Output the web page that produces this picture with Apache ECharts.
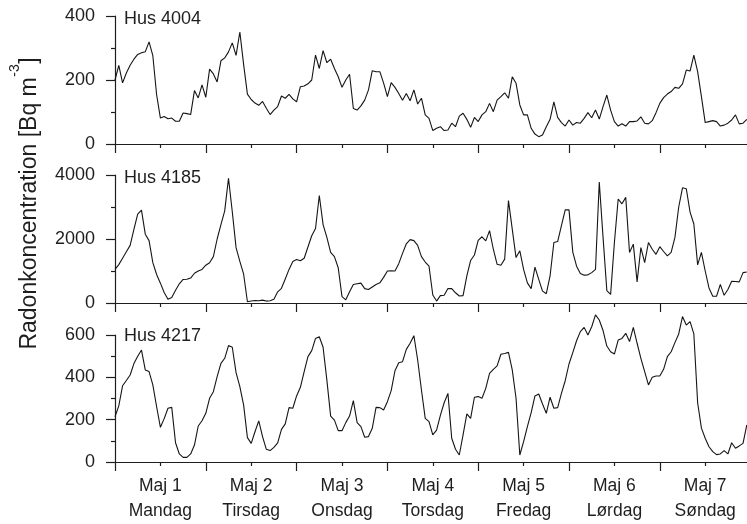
<!DOCTYPE html>
<html><head><meta charset="utf-8">
<script src="https://cdn.jsdelivr.net/npm/echarts@6/dist/echarts.min.js"></script>
<style>html,body{margin:0;padding:0;background:#fff}#c{width:747px;height:524px}</style>
</head><body><div id="c"></div>
<script>
// ---- data (hourly values, 7 days x 24 h) ----
const dates = ['Maj 1','Maj 2','Maj 3','Maj 4','Maj 5','Maj 6','Maj 7'];
const weekdays = ['Mandag','Tirsdag','Onsdag','Torsdag','Fredag','Lørdag','Søndag'];
const panelTitles = ['Hus 4004','Hus 4185','Hus 4217'];
const yMax = [400, 4000, 600];
const yInterval = [200, 2000, 200];

const hus4004 = [
 200,246,191,222,246,265,280,285,288,319,276,154,81,86,79,81,71,71,97,95,92,167,144,185,
 146,234,219,194,260,269,288,316,277,350,248,156,139,128,121,133,112,92,106,117,150,143,155,141,
 132,179,181,188,200,278,236,292,254,265,236,210,177,200,218,111,106,119,137,169,229,226,226,190,
 148,192,177,158,137,158,135,169,125,143,91,80,42,49,54,42,44,65,54,87,96,77,52,83,
 70,91,101,127,101,137,148,160,143,210,190,122,91,91,49,31,23,28,54,77,132,83,67,56,
 75,59,67,65,80,98,82,106,78,117,153,106,70,56,63,56,70,70,72,85,65,63,73,98,
 127,145,156,164,177,174,188,231,228,278,226,148,67,70,73,70,56,59,65,75,91,63,65,77
];
const hus4185 = [
 1050,1200,1400,1600,1800,2300,2780,2900,2150,1950,1260,890,620,330,120,170,400,600,735,740,780,930,1000,1050,
 1180,1260,1450,2000,2450,2880,3900,2850,1730,1300,900,40,60,80,70,90,60,70,120,350,460,750,1050,1300,
 1360,1320,1400,1750,2100,2330,3360,2450,2050,1580,1450,1100,200,100,350,580,600,620,450,420,500,580,630,800,
 1000,1010,1000,1230,1550,1850,1980,1950,1800,1450,1280,1150,250,60,230,240,450,450,320,220,230,850,1330,1500,
 1960,2070,1940,2260,1680,1210,1180,1370,3200,2310,1420,1630,1050,630,450,1120,740,370,290,850,1890,1920,2420,2910,
 2910,1590,1150,920,870,880,950,1050,3780,2050,390,270,1890,3250,3100,3300,1580,1840,660,1730,1260,1890,1680,1520,
 1760,1610,1470,1580,2050,3000,3600,3570,2840,2470,1190,1580,1000,470,210,210,580,240,420,680,670,660,950,970
];
const hus4217 = [
 214,265,360,385,411,465,500,529,435,427,364,261,164,205,254,258,91,38,22,22,38,80,170,195,
 230,301,332,403,466,490,550,542,422,356,269,115,88,143,194,120,60,54,69,90,154,180,257,254,
 312,353,427,498,526,584,592,542,387,217,198,148,148,186,217,290,186,167,117,120,159,258,257,246,
 285,337,431,469,474,532,561,597,482,340,206,191,128,151,220,280,324,112,60,33,128,227,206,306,
 309,301,348,419,438,454,509,513,518,435,301,33,96,167,233,312,321,274,230,306,254,257,324,384,
 463,517,573,616,636,600,639,695,671,621,548,521,510,576,584,608,569,636,561,490,427,364,400,406,
 406,438,498,521,564,605,687,647,663,605,280,160,112,72,49,35,38,54,38,91,65,76,88,175
];
const seriesData = [hus4004, hus4185, hus4217];

// ---- layout / style ----
const FONT = 'Liberation Sans, Arial, sans-serif';
const INK = '#1e1e1e';
const gridTops = [16, 175, 335];
const gridHeights = [128, 128, 127];
const HOURS = 168;

const chart = echarts.init(document.getElementById('c'), null, {renderer: 'canvas'});

const grids = [], xAxes = [], yAxes = [], series = [];
for (let i = 0; i < 3; i++) {
  grids.push({left: 115, top: gridTops[i], width: 635.6, height: gridHeights[i], outerBoundsMode: 'none', containLabel: false});
  xAxes.push({
    type: 'value', gridIndex: i, min: 0, max: HOURS, interval: 24,
    axisLine: {show: true, onZero: false, lineStyle: {color: INK, width: 1.2}},
    axisTick: {show: true, length: 9, lineStyle: {color: INK, width: 1.2}},
    minorTick: {show: true, splitNumber: 2, length: 4, lineStyle: {color: INK, width: 1.2}},
    axisLabel: {show: false}, splitLine: {show: false}, minorSplitLine: {show: false}
  });
  yAxes.push({
    type: 'value', gridIndex: i, min: 0, max: yMax[i], interval: yInterval[i],
    axisLine: {show: true, onZero: false, lineStyle: {color: INK, width: 1.2}},
    axisTick: {show: true, length: 9, lineStyle: {color: INK, width: 1.2}},
    minorTick: {show: true, splitNumber: 2, length: 4, lineStyle: {color: INK, width: 1.2}},
    axisLabel: {show: true, fontSize: 18, fontFamily: FONT, color: INK, margin: 20,
      formatter: function (v) { return String(v); }},
    splitLine: {show: false}, minorSplitLine: {show: false}
  });
  series.push({
    type: 'line', xAxisIndex: i, yAxisIndex: i,
    data: seriesData[i].map((v, h) => [h, v]),
    symbol: 'none', showSymbol: false, clip: false,
    lineStyle: {color: '#151515', width: 1.1}, silent: true
  });
}
// label axis for the bottom panel (day labels at midday)
xAxes.push({
  type: 'value', gridIndex: 2, min: 0, max: HOURS, interval: 12, position: 'bottom',
  axisLine: {show: false}, axisTick: {show: false}, splitLine: {show: false},
  axisLabel: {
    show: true, fontSize: 17.5, fontFamily: FONT, color: INK, margin: 11, lineHeight: 25.5,
    formatter: function (v) {
      if (v % 24 !== 12) return '';
      const d = (v - 12) / 24;
      return dates[d] + '\n' + weekdays[d];
    }
  }
});

const titleY = [19, 178.3, 336.5];
const graphics = panelTitles.map((t, i) => ({
  type: 'text', x: 124, y: titleY[i],
  style: {text: t, font: '18px ' + FONT, fill: INK, align: 'left', verticalAlign: 'middle'}
}));

// y-axis name with superscript
const mctx = document.createElement('canvas').getContext('2d');
const mainFont = '23px ' + FONT, supFont = '14px ' + FONT;
mctx.font = mainFont;
const part1 = 'Radonkoncentration [Bq m', part3 = ']';
const w1 = mctx.measureText(part1).width, w3 = mctx.measureText(part3).width;
mctx.font = supFont;
const ws = mctx.measureText('-3').width;
const L = w1 + ws + w3;
graphics.push({
  type: 'group', x: 30, y: 204, rotation: Math.PI / 2,
  children: [
    {type: 'text', x: -L / 2, y: 0, style: {text: part1, font: mainFont, fill: INK, align: 'left', verticalAlign: 'middle'}},
    {type: 'text', x: -L / 2 + w1 + 0.5, y: -15, style: {text: '-3', font: supFont, fill: INK, align: 'left', verticalAlign: 'middle'}},
    {type: 'text', x: -L / 2 + w1 + ws + 1, y: 0, style: {text: part3, font: mainFont, fill: INK, align: 'left', verticalAlign: 'middle'}}
  ]
});

chart.setOption({
  animation: false,
  backgroundColor: '#ffffff',
  grid: grids, xAxis: xAxes, yAxis: yAxes, series: series,
  graphic: graphics
});
</script></body></html>
